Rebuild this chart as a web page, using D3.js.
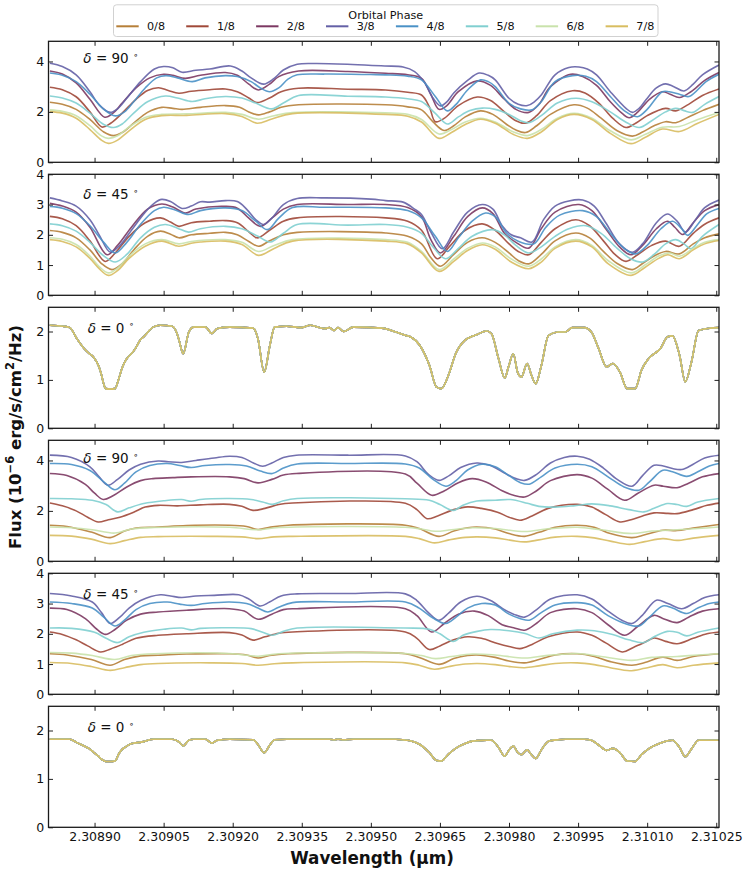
<!DOCTYPE html>
<html><head><meta charset="utf-8">
<script src="https://cdn.jsdelivr.net/npm/d3@7/dist/d3.min.js"></script>
<style>
body{margin:0;background:#fff;}
svg{display:block;font-family:"DejaVu Sans",sans-serif;}
</style></head>
<body><svg id="chart" width="748" height="873"></svg>
<script>
// ---------------- DATA ----------------
// wavelength origin (µm); all wavelength offsets below are in units of 1e-5 µm
const WL0 = 2.3088;
const phases = ["0/8","1/8","2/8","3/8","4/8","5/8","6/8","7/8"];
const deltas = ["90","45","0","90","45","0"];
const xTickValues = [2.30890,2.30905,2.30920,2.30935,2.30950,2.30965,2.30980,2.30995,2.31010,2.31025];
const xTickLabels = ["2.30890","2.30905","2.30920","2.30935","2.30950","2.30965","2.30980","2.30995","2.31010","2.31025"];
const yMaxes = [4.8,4,2.5,4.8,4,2.5];
const yTickSets = [[0,2,4],[0,1,2,3,4],[0,1,2],[0,2,4],[0,1,2,3,4],[0,1,2]];

// Panel 1 (delta = 90, top group): [offset, flux] per phase
const a0 = [[0.3,2.38],[3,2.30],[6,2.10],[9,1.70],[12,1.20],[14.1,1.06],[16,1.18],[18.5,1.55],[21.5,1.98],[24.6,2.18],[27,2.14],[29,2.10],[33,2.18],[38.4,2.25],[41.5,2.18],[43.5,2.00],[45.6,1.88],[48,2.00],[50.5,2.18],[54.3,2.28],[73.2,2.28],[78,2.20],[81,2.08],[83.5,1.60],[85.9,1.26],[88,1.45],[90.5,1.80],[93.8,2.04],[96.5,1.90],[99.5,1.50],[101.5,1.28],[103.6,1.18],[106,1.45],[109,1.90],[114.1,2.28],[117,2.15],[120,1.75],[123.5,1.25],[126.8,1.04],[129,1.20],[131.5,1.45],[134,1.61],[136.2,1.57],[139,1.80],[142,2.05],[145.6,2.30]];
const a1 = [[0.3,2.98],[3,2.88],[6,2.60],[9,2.00],[11.6,1.40],[13.5,1.55],[16,1.95],[19,2.50],[21.5,2.85],[23.9,2.96],[26,2.85],[28.3,2.74],[31,2.82],[35,2.88],[38.4,2.91],[41,2.80],[43.5,2.55],[45.3,2.37],[48,2.55],[50.5,2.80],[54.3,2.94],[65,2.90],[73.2,2.87],[78,2.78],[81,2.67],[82.7,2.20],[84,1.61],[86,1.75],[89,2.25],[93.1,2.59],[96,2.45],[99,2.00],[101.5,1.65],[103.6,1.55],[106,1.85],[109,2.45],[113.8,2.84],[116.5,2.75],[119.5,2.35],[122.5,1.75],[125.4,1.38],[127.5,1.55],[130,1.85],[134,2.14],[136.2,2.04],[139,2.30],[142,2.65],[145.6,2.91]];
const a2 = [[0.3,3.62],[3,3.50],[6,3.15],[9,2.50],[12.2,1.79],[14,1.95],[16,2.35],[19,2.95],[22,3.35],[25,3.49],[27,3.45],[29.7,3.33],[33,3.45],[38.4,3.56],[41,3.45],[43.5,3.10],[45.6,2.87],[48,3.10],[50,3.40],[54.3,3.62],[65,3.60],[73.2,3.53],[78,3.47],[81,3.33],[83,2.70],[84.8,2.10],[86.5,2.25],[89,2.80],[93.1,3.23],[96,3.05],[99,2.50],[101.5,2.10],[104.3,1.98],[106.5,2.30],[109,3.00],[113.4,3.49],[116,3.40],[119,3.05],[122,2.40],[124.5,1.95],[126.1,1.77],[128,2.00],[130.5,2.50],[133.3,2.80],[135,2.70],[137,2.57],[139.5,2.80],[142.5,3.25],[145.6,3.56]];
const a3 = [[0.3,3.93],[3,3.80],[6,3.47],[9,2.80],[11,2.28],[13.4,1.98],[15,2.12],[17,2.54],[20,3.20],[23,3.70],[25,3.80],[27,3.75],[29,3.57],[32,3.65],[35,3.70],[39.5,3.82],[42,3.62],[44,3.35],[46.7,3.10],[49,3.33],[51,3.66],[54,3.89],[58,3.92],[66,3.88],[73,3.82],[77,3.78],[79.5,3.60],[81.5,3.20],[83.5,2.55],[85.1,2.24],[86.5,2.40],[88,2.75],[91,3.25],[93.5,3.54],[95.5,3.45],[97,3.27],[100,2.54],[102,2.30],[104,2.25],[105.5,2.40],[107,2.67],[110,3.47],[113,3.76],[115.2,3.78],[117,3.70],[119,3.47],[122,2.80],[125.4,2.14],[126.8,1.98],[128.3,2.15],[129.7,2.47],[132,2.95],[134,3.11],[135.8,3.00],[138,2.83],[140,3.10],[142,3.47],[145.6,3.86]];
const a4 = [[0.3,3.54],[3,3.45],[6,3.20],[9,2.70],[12,2.10],[14.5,1.84],[16.5,2.00],[18.5,2.40],[21,2.95],[23.5,3.35],[25.5,3.44],[28,3.35],[31.2,3.20],[34,3.35],[38.4,3.44],[41,3.40],[44,3.20],[46,2.95],[48,2.80],[50,2.95],[52,3.30],[54,3.47],[60,3.50],[70,3.48],[73.2,3.47],[78,3.42],[81,3.27],[84,2.61],[86.6,2.04],[88.5,2.30],[91,2.87],[93.8,3.27],[95.5,3.20],[97,3.00],[100,2.34],[102.5,2.12],[105,2.08],[107,2.40],[110,3.20],[113.8,3.44],[116.7,3.41],[119,3.20],[122,2.61],[125,2.05],[127.9,1.81],[130,2.10],[133.3,2.80],[134.8,2.80],[137,2.70],[139.1,2.61],[142.8,3.20],[145.6,3.49]];
const a5 = [[0.3,2.63],[3,2.55],[6,2.35],[9,1.95],[12,1.50],[14.1,1.38],[16,1.52],[18.5,1.95],[21.5,2.40],[25.4,2.63],[28,2.55],[31.2,2.41],[34,2.52],[38.4,2.61],[42,2.55],[45,2.35],[48.5,2.12],[51,2.35],[54.3,2.65],[65,2.62],[73.2,2.59],[78,2.52],[81,2.41],[84,1.94],[86.6,1.52],[89,1.80],[91.5,2.05],[94.2,2.15],[97,2.10],[100,1.90],[102.5,1.65],[104.3,1.57],[107,1.85],[110.5,2.35],[114.5,2.54],[118,2.40],[122,2.00],[125.5,1.58],[128.3,1.38],[131,1.65],[134,2.00],[136.2,2.14],[138,2.05],[139.9,1.98],[142.5,2.30],[145.6,2.61]];
const a6 = [[0.3,2.08],[3,2.02],[6,1.85],[9,1.45],[11.5,1.05],[13,0.95],[15,1.05],[17.5,1.40],[21,1.78],[24.6,1.90],[30,1.92],[38.4,1.98],[42,1.90],[45.6,1.71],[49,1.85],[53,1.97],[73.2,1.96],[78,1.90],[81,1.70],[84.8,1.12],[87.5,1.30],[90.5,1.60],[93.8,1.75],[97,1.60],[101,1.20],[104,1.06],[107,1.30],[110.5,1.75],[114.1,1.94],[118,1.75],[122,1.25],[126.5,0.89],[129.5,1.10],[133.3,1.39],[137,1.42],[141,1.70],[145.6,1.98]];
const a7 = [[0.3,2.01],[3,1.95],[6,1.75],[9,1.30],[11.5,0.88],[13,0.75],[15,0.88],[17.5,1.25],[21,1.70],[24.6,1.85],[30,1.86],[38.4,1.93],[42,1.82],[45.3,1.55],[48.5,1.72],[53,1.93],[73.2,1.90],[78,1.83],[81,1.60],[84.8,0.95],[87.5,1.18],[90.5,1.50],[93.8,1.71],[97,1.55],[101,1.10],[104,0.95],[107,1.20],[110.5,1.70],[114.1,1.90],[118,1.70],[122,1.15],[126.5,0.74],[129.5,0.98],[133.3,1.32],[137,1.22],[141,1.55],[145.6,1.90]];

// Panel 2 (delta = 45, top group)
const b0 = [[0.3,2.14],[3,2.08],[6,1.90],[9,1.50],[11.5,1.05],[13.8,0.85],[16,1.05],[18.5,1.50],[21.5,1.95],[24.3,2.12],[26.5,2.02],[28.3,1.90],[31,2.00],[35,2.05],[38.4,2.08],[41,2.00],[43.5,1.78],[45.6,1.62],[48,1.80],[51,2.00],[54,2.08],[73.2,2.06],[78,1.95],[81,1.70],[83,1.25],[85.1,0.96],[88,1.35],[91,1.75],[94.2,1.90],[97,1.75],[100,1.40],[102,1.15],[104.3,1.04],[107,1.35],[110,1.80],[114.5,2.06],[117.5,1.90],[120.5,1.45],[123.5,1.05],[126.8,0.85],[129,1.05],[131.5,1.30],[134,1.45],[137,1.37],[140,1.70],[142.5,1.90],[145.6,2.03]];
const b1 = [[0.3,2.61],[3,2.53],[6,2.30],[9,1.80],[12.3,1.12],[14.5,1.40],[17.5,1.95],[21,2.40],[24.3,2.56],[26.5,2.42],[28.3,2.28],[31,2.40],[35,2.45],[38.4,2.47],[41,2.40],[43.5,2.10],[45.3,1.90],[48,2.15],[51,2.45],[54,2.56],[73.2,2.56],[78,2.45],[81,2.15],[84.4,1.21],[87,1.60],[90.5,2.15],[94.2,2.36],[97,2.15],[100,1.70],[102,1.45],[104.3,1.34],[107,1.75],[110,2.20],[114.5,2.50],[117.5,2.30],[120.5,1.80],[123,1.35],[125.4,1.12],[128,1.35],[131,1.65],[134,1.79],[137,1.62],[140,2.05],[142.5,2.35],[145.6,2.56]];
const b2 = [[0.3,3.04],[3,2.95],[6,2.75],[9,2.25],[12.7,1.34],[15,1.65],[18,2.25],[21.5,2.85],[24.6,3.02],[27,2.92],[29.7,2.72],[32,2.85],[38.4,2.94],[41,2.88],[43.5,2.55],[46,2.28],[48.5,2.55],[51,2.85],[54,3.00],[65,3.00],[73.2,3.00],[78,2.90],[81,2.60],[83,1.85],[85.1,1.40],[88,1.95],[91,2.60],[94.2,2.89],[96.5,2.70],[99,2.05],[101.5,1.75],[104.3,1.56],[107,2.20],[110,2.75],[115.2,3.00],[118,2.80],[121,2.20],[124,1.60],[126.5,1.34],[129,1.65],[132,2.20],[134.4,2.45],[136,2.25],[137.7,2.01],[140,2.40],[142.5,2.80],[145.6,3.00]];
const b3 = [[0.3,3.22],[3,3.12],[6,2.95],[9,2.50],[11,2.00],[13.4,1.43],[15.5,1.65],[18,2.15],[21,2.75],[23,3.05],[24.6,3.17],[26.5,3.10],[29,2.87],[31,2.95],[33,3.09],[35,3.08],[38.4,3.13],[41,3.10],[43,2.85],[45,2.50],[46.7,2.34],[48.5,2.55],[51,3.00],[54,3.20],[60,3.22],[70,3.18],[73.2,3.13],[77,3.08],[79.5,2.85],[81,2.67],[83,2.10],[85.5,1.54],[88,2.10],[91,2.75],[94.2,3.00],[96.5,2.85],[98.5,2.30],[100.5,2.00],[102.5,1.90],[105,1.76],[107.5,2.50],[110,2.95],[113,3.12],[116,3.15],[118.5,2.95],[121,2.40],[124,1.70],[126.8,1.42],[129,1.70],[132,2.40],[134.4,2.69],[136.5,2.45],[138.3,2.09],[140.5,2.50],[142.5,2.90],[145.6,3.15]];
const b4 = [[0.3,2.94],[3,2.88],[6,2.70],[9,2.30],[12,1.75],[14.5,1.40],[17,1.75],[20,2.35],[23,2.80],[25,2.91],[27.5,2.82],[30.4,2.67],[33,2.80],[38.4,2.89],[42,2.80],[45,2.45],[47.5,2.17],[50,2.55],[53,2.90],[60,2.91],[73.2,2.89],[78,2.80],[81,2.56],[84,1.95],[86.6,1.45],[89,1.90],[92,2.45],[94.9,2.72],[97,2.60],[99.5,2.05],[102,1.79],[105.4,1.70],[108,2.25],[111,2.65],[116,2.80],[119,2.60],[122,2.05],[125,1.55],[127.5,1.37],[130,1.65],[133,2.20],[135.5,2.45],[137.5,2.20],[138.8,1.98],[141,2.35],[143,2.70],[145.6,2.87]];
const b5 = [[0.3,2.36],[3,2.30],[6,2.12],[9,1.75],[12,1.30],[14.5,1.10],[17,1.35],[20,1.90],[23,2.25],[25.4,2.34],[28,2.22],[30.4,2.09],[33,2.20],[38.4,2.28],[42,2.20],[45.5,1.95],[48.2,1.76],[51,2.05],[54,2.34],[65,2.32],[73.2,2.34],[78,2.25],[81,2.05],[83.5,1.60],[86.2,1.21],[89,1.55],[92,1.95],[96.4,2.17],[99,2.00],[101.5,1.65],[104.3,1.40],[107,1.60],[110,1.95],[113,2.20],[116.7,2.30],[120,2.05],[123.5,1.55],[126.5,1.20],[129,1.10],[131.5,1.35],[134,1.70],[136.2,1.84],[138,1.70],[139.5,1.54],[142,1.95],[145.6,2.34]];
const b6 = [[0.3,1.90],[3,1.85],[6,1.68],[9,1.30],[11,0.95],[13,0.74],[15,0.90],[17.5,1.30],[21,1.70],[24.6,1.84],[28.3,1.70],[31,1.78],[38.4,1.84],[42,1.75],[45.6,1.45],[49,1.65],[53,1.84],[73.2,1.84],[78,1.75],[81,1.45],[84.8,0.85],[88,1.20],[91,1.55],[94.2,1.73],[97,1.60],[100.5,1.20],[104.3,0.96],[107,1.20],[110,1.60],[114.5,1.84],[118,1.65],[121.5,1.15],[126.5,0.74],[129.5,1.00],[132.5,1.30],[135,1.40],[137,1.29],[140,1.55],[142.5,1.75],[145.6,1.84]];
const b7 = [[0.3,1.84],[3,1.78],[6,1.60],[9,1.22],[11,0.88],[13,0.66],[15,0.82],[17.5,1.22],[21,1.62],[24.6,1.79],[28.3,1.62],[31,1.72],[33,1.76],[38.4,1.79],[42,1.68],[45.6,1.32],[49,1.55],[53,1.79],[73.2,1.79],[78,1.70],[81,1.40],[84.8,0.79],[88,1.12],[91,1.48],[94.2,1.67],[97,1.52],[100.5,1.10],[104.3,0.88],[107,1.10],[110,1.55],[114.5,1.79],[118,1.60],[121.5,1.05],[126.5,0.66],[129.5,0.92],[132.5,1.22],[134.5,1.34],[137,1.21],[140,1.50],[142.5,1.70],[145.6,1.81]];

// Panel 3 and 6 (delta = 0): identical for every phase
const wl0 = [0.28,3.07,4.62,6.17,7.72,8.76,9.79,10.83,11.34,12.17,12.38,13.41,14.45,15.28,16.00,16.72,18.07,18.59,20.14,20.65,22.72,24.28,26.86,27.90,28.41,29.24,30.48,31.52,34.10,35.45,36.69,39.27,44.45,45.48,46.83,48.07,49.10,51.69,54.79,56.86,59.96,61.00,62.03,62.86,64.10,66.17,72.38,75.48,77.55,78.58,80.65,82.72,84.27,85.31,86.86,88.41,90.48,92.03,93.07,95.14,96.17,97.72,99.07,99.89,100.93,101.86,102.69,103.93,104.86,105.79,107.03,108.58,110.65,112.20,113.75,116.34,117.89,119.44,121.20,122.55,124.10,125.65,127.41,128.76,130.31,132.89,134.44,135.48,137.03,138.27,139.62,141.17,143.75,145.60];
const flux0top = [2.13,2.11,2.08,1.85,1.65,1.55,1.47,1.30,1.16,0.86,0.82,0.81,0.82,1.03,1.25,1.40,1.55,1.61,1.85,1.89,2.09,2.13,2.11,1.96,1.80,1.54,1.99,2.09,2.09,1.96,2.06,2.09,2.07,1.85,1.16,1.71,2.09,2.11,2.08,2.13,2.06,2.08,2.02,2.08,2.00,2.09,2.07,1.99,1.92,1.89,1.71,1.30,0.85,0.82,1.10,1.54,1.82,1.90,1.94,2.01,1.96,1.44,1.04,1.27,1.54,1.16,1.06,1.34,1.10,0.92,1.30,1.92,1.99,1.99,2.08,2.08,1.99,1.65,1.27,1.34,1.16,0.82,0.82,1.20,1.44,1.65,1.89,1.91,1.51,0.96,1.37,2.02,2.07,2.08];
const flux0bot = [1.82,1.82,1.82,1.75,1.68,1.63,1.55,1.47,1.42,1.37,1.36,1.36,1.37,1.52,1.61,1.66,1.73,1.74,1.76,1.77,1.82,1.82,1.82,1.79,1.76,1.68,1.80,1.82,1.82,1.74,1.80,1.82,1.81,1.71,1.54,1.70,1.81,1.82,1.82,1.82,1.82,1.82,1.81,1.82,1.81,1.82,1.82,1.82,1.80,1.79,1.71,1.54,1.38,1.37,1.51,1.63,1.73,1.78,1.79,1.80,1.80,1.65,1.47,1.58,1.68,1.55,1.50,1.60,1.50,1.42,1.60,1.78,1.81,1.82,1.82,1.82,1.80,1.70,1.59,1.63,1.54,1.37,1.36,1.50,1.62,1.74,1.79,1.80,1.65,1.46,1.62,1.80,1.80,1.80];

// Panel 4 (delta = 90, bottom group)
const d0 = [[0.3,1.43],[4,1.38],[9.3,1.16],[13.4,0.94],[16.5,1.20],[19,1.32],[23.8,1.36],[30,1.42],[39.3,1.43],[43,1.38],[45.5,1.26],[48,1.35],[52,1.43],[77.5,1.43],[80.5,1.30],[84.8,0.99],[88,1.20],[91,1.33],[93,1.36],[97,1.28],[100,1.10],[103.4,0.99],[106.5,1.15],[110,1.35],[114.8,1.43],[118.5,1.35],[122,1.10],[126.7,0.94],[129.5,1.05],[133.4,1.23],[136.5,1.22],[140,1.32],[145.6,1.46]];
const d1 = [[0.3,2.31],[3,2.20],[6,2.00],[8.5,1.75],[10.8,1.56],[13,1.65],[15.5,1.75],[18.5,1.95],[21,2.15],[23.8,2.22],[28,2.20],[33,2.24],[39.3,2.26],[42,2.18],[44.4,2.02],[47,2.10],[50,2.25],[53,2.31],[77.5,2.30],[80,2.05],[82.2,1.69],[84.5,1.80],[88,2.05],[91,2.16],[94,2.10],[97.5,1.95],[100,1.75],[102.4,1.63],[105,1.80],[108.5,2.10],[114.8,2.26],[118,2.15],[121,1.85],[124.1,1.56],[126.5,1.65],[129,1.80],[131.5,1.92],[134.5,1.90],[136.5,1.89],[140,2.05],[143,2.22],[145.6,2.31]];
const d2 = [[0.3,3.48],[4,3.40],[8,3.05],[10,2.70],[11.9,2.45],[14,2.60],[17,2.95],[20,3.20],[22.7,3.28],[27,3.32],[31,3.35],[39.3,3.35],[42.5,3.28],[45.5,3.11],[48.5,3.25],[51,3.42],[53.8,3.48],[77.5,3.46],[80,3.10],[83.2,2.62],[86,2.80],[89,3.12],[92,3.28],[95,3.15],[98.5,2.80],[101,2.62],[103.4,2.55],[106,2.80],[109,3.20],[114.8,3.44],[118,3.30],[121.5,2.85],[125.1,2.42],[128,2.70],[131.5,3.02],[133.5,2.98],[136.5,2.92],[139,3.10],[142,3.35],[145.6,3.48]];
const d3v = [[0.3,4.21],[5,4.12],[9,3.75],[11,3.35],[12.9,3.02],[15,3.25],[17.5,3.62],[20,3.85],[23.8,3.98],[26,3.95],[28.9,3.92],[32,4.00],[36,4.10],[39.3,4.17],[42,4.12],[44.5,3.90],[46.5,3.77],[48.5,3.90],[51,4.12],[53.8,4.21],[65,4.21],[77.5,4.18],[80,3.95],[82.5,3.45],[84.8,3.21],[87,3.40],[89.5,3.72],[93,3.90],[96,3.80],[99,3.50],[101.5,3.28],[103.4,3.21],[106,3.45],[109,3.90],[112,4.12],[114.8,4.17],[117.5,4.05],[120.5,3.70],[123.5,3.25],[126.7,2.98],[129,3.40],[131.5,3.81],[133.5,3.78],[135.5,3.68],[137.5,3.64],[140,3.85],[142.5,4.10],[145.6,4.21]];
const d4 = [[0.3,3.88],[5,3.84],[9,3.60],[12,3.15],[14.4,2.84],[16.5,3.10],[19,3.55],[22,3.80],[25.8,3.88],[28.5,3.80],[31,3.72],[34,3.80],[39.3,3.84],[43,3.78],[46,3.58],[48.6,3.48],[51,3.70],[54,3.86],[65,3.88],[77.5,3.86],[80.5,3.70],[83.5,3.25],[86.3,2.98],[88.5,3.20],[91,3.62],[94.1,3.85],[97,3.75],[100,3.40],[102.5,3.12],[104.4,3.06],[107,3.35],[110,3.70],[114.8,3.85],[118,3.75],[121.5,3.35],[125,2.95],[128.2,2.82],[130.5,3.15],[133.4,3.61],[135.5,3.55],[138.6,3.37],[141,3.55],[143.5,3.78],[145.6,3.88]];
const d5 = [[0.3,2.49],[5,2.48],[9.5,2.42],[12.5,2.25],[15,1.96],[17.5,2.12],[20.7,2.29],[25,2.40],[28.9,2.45],[31,2.38],[33,2.45],[39.3,2.49],[44,2.45],[46.5,2.35],[48.6,2.26],[51,2.40],[54,2.49],[77.5,2.48],[82.7,2.42],[85,2.25],[87.9,2.02],[90,2.22],[93,2.39],[97,2.42],[100.3,2.45],[104,2.30],[106.5,2.18],[110,2.15],[114,2.20],[118,2.28],[122,2.20],[126,2.05],[129.3,1.96],[131.5,2.10],[134.4,2.29],[136.5,2.25],[138.6,2.18],[141,2.35],[145.6,2.49]];
const d6 = [[0.3,1.36],[5,1.33],[9.5,1.25],[14.4,1.12],[18,1.28],[23,1.34],[39.3,1.35],[45.5,1.25],[50,1.34],[77.5,1.35],[81,1.28],[84,1.19],[87.5,1.25],[92,1.33],[97,1.30],[103.5,1.18],[108,1.28],[114.8,1.35],[120,1.25],[126.7,1.10],[131,1.20],[136.5,1.25],[141,1.30],[145.6,1.36]];
const d7 = [[0.3,1.03],[5,1.00],[9.3,0.88],[13.4,0.70],[16.5,0.82],[20,0.95],[23.8,0.98],[35,0.99],[42,0.97],[45.5,0.90],[49,0.97],[53,0.99],[77.5,0.99],[80.5,0.90],[83.8,0.73],[87,0.85],[90.5,0.95],[93.1,0.97],[97,0.93],[100.5,0.83],[103.4,0.77],[106.5,0.85],[110,0.96],[114.8,0.99],[118.5,0.93],[122,0.80],[126.2,0.67],[129.5,0.78],[133.4,0.90],[136.5,0.83],[140,0.92],[145.6,1.03]];

// Panel 5 (delta = 45, bottom group)
const e0 = [[0.3,1.34],[4,1.30],[9.3,1.15],[13.4,0.96],[16.5,1.15],[20,1.27],[23.8,1.29],[30,1.33],[39.3,1.34],[43,1.30],[45.5,1.20],[48,1.28],[52,1.34],[77.5,1.34],[80.5,1.22],[84.8,0.99],[88,1.18],[91,1.28],[93,1.30],[97,1.22],[100,1.10],[103.4,1.04],[106.5,1.15],[110,1.30],[114.8,1.34],[118.5,1.25],[122,1.08],[126.7,0.96],[129.5,1.05],[133.4,1.23],[136.5,1.12],[140,1.25],[145.6,1.34]];
const e1 = [[0.3,2.06],[3,1.98],[6,1.80],[8.5,1.60],[11.3,1.40],[13.5,1.50],[16,1.65],[19,1.85],[23.8,1.95],[30,2.00],[39.3,2.04],[42,1.96],[44.4,1.79],[47,1.90],[50,2.02],[53,2.06],[77.5,2.06],[80,1.85],[82.7,1.48],[85,1.60],[88,1.80],[91,1.90],[94,1.85],[97.5,1.68],[100,1.58],[102.4,1.51],[105,1.65],[108.5,1.90],[114.8,2.06],[118,1.95],[121,1.70],[124.6,1.40],[127,1.55],[129.5,1.72],[131.5,1.86],[134,1.75],[136.5,1.67],[140,1.85],[143,2.00],[145.6,2.06]];
const e2 = [[0.3,2.85],[4,2.80],[8,2.50],[10.5,2.15],[12.4,1.98],[14.5,2.15],[17,2.45],[20,2.65],[23.8,2.72],[30,2.78],[39.3,2.83],[42.5,2.75],[45.5,2.48],[48.5,2.65],[51,2.80],[54,2.83],[77.5,2.83],[80,2.60],[83.2,2.06],[86,2.35],[89,2.65],[92.5,2.75],[95.5,2.60],[98.5,2.30],[101,2.20],[103.4,2.12],[106,2.35],[109,2.70],[114.8,2.83],[118,2.70],[121.5,2.30],[125.1,1.95],[128,2.25],[131.5,2.61],[133.5,2.50],[136.5,2.37],[139,2.55],[142,2.75],[145.6,2.83]];
const e3 = [[0.3,3.33],[5,3.25],[9.5,3.05],[11.5,2.70],[13.4,2.34],[15.5,2.55],[17.5,2.85],[20,3.10],[24.3,3.29],[26.5,3.25],[28.9,3.20],[32,3.25],[36,3.27],[41.3,3.29],[43.5,3.15],[46,2.92],[48,3.05],[50.5,3.25],[54,3.32],[65,3.33],[77.5,3.32],[80,3.10],[82.5,2.70],[84.8,2.45],[87,2.70],[89.5,3.05],[93,3.24],[96,3.10],[99,2.80],[101,2.65],[103.4,2.55],[106,2.80],[109,3.15],[114.8,3.29],[118,3.15],[121.5,2.75],[124.5,2.45],[126.7,2.34],[129,2.62],[132,3.11],[134.5,3.00],[137.5,2.83],[140,3.00],[142.5,3.20],[145.6,3.29]];
const e4 = [[0.3,3.05],[5,3.00],[9.5,2.85],[12,2.55],[14.4,2.26],[16.5,2.45],[19,2.80],[22,3.00],[25.8,3.05],[28.5,2.98],[31,2.94],[34,3.00],[39.3,3.05],[43,3.00],[45.5,2.85],[47.6,2.72],[50,2.88],[53,3.03],[65,3.05],[77.5,3.05],[80.5,2.85],[83.5,2.52],[86.3,2.34],[88.5,2.55],[91,2.85],[94.1,3.00],[97,2.95],[100,2.65],[102.5,2.50],[104.4,2.45],[107,2.70],[110,2.95],[114.8,3.03],[118,2.95],[121.5,2.60],[125,2.35],[128.2,2.26],[130.5,2.55],[133.4,2.92],[135.5,2.85],[138.6,2.67],[141,2.85],[143.5,3.00],[145.6,3.05]];
const e5 = [[0.3,2.19],[5,2.18],[10,2.05],[12.5,1.85],[15,1.71],[17.5,1.90],[20.7,2.05],[25,2.15],[28.9,2.19],[31,2.13],[33,2.18],[39.3,2.20],[44,2.17],[46.5,2.05],[48.6,1.95],[51,2.08],[54,2.19],[77.5,2.19],[82.7,2.15],[85,2.00],[87.9,1.75],[90,1.95],[93.1,2.08],[96,2.14],[100,2.10],[103.5,2.01],[106.5,1.86],[109.5,2.00],[114.8,2.12],[118.5,2.10],[122.5,1.98],[126,1.80],[129.3,1.71],[131.5,1.90],[134.4,2.08],[136.5,2.05],[138.6,1.93],[141,2.05],[145.6,2.19]];
const e6 = [[0.3,1.38],[5,1.36],[9.5,1.28],[14.4,1.15],[18,1.28],[23,1.34],[39.3,1.35],[45.5,1.26],[50,1.34],[77.5,1.35],[81,1.28],[84,1.18],[87.5,1.25],[92,1.33],[97,1.30],[103.5,1.20],[108,1.28],[114.8,1.35],[120,1.25],[126.7,1.12],[131,1.22],[136.5,1.25],[141,1.30],[145.6,1.34]];
const e7 = [[0.3,1.05],[5,1.02],[9.3,0.92],[13.4,0.79],[16.5,0.88],[20,0.98],[23.8,1.02],[35,1.04],[42,1.02],[45.5,0.96],[49,1.01],[53,1.04],[77.5,1.04],[80.5,0.96],[83.8,0.83],[87,0.92],[90.5,1.00],[93.1,1.02],[97,0.98],[100.5,0.91],[103.4,0.88],[106.5,0.94],[110,1.02],[114.8,1.04],[118.5,0.98],[122,0.88],[126.2,0.78],[129.5,0.86],[133.4,0.98],[136.5,0.88],[140,0.96],[145.6,1.04]];

// ---------------- STYLE / LAYOUT ----------------
const colors = ["#b67f38","#a04838","#7c3862","#6460a6","#4a91c6","#80cfd0","#c9e2ab","#d8bd60"];
const W = 748, H = 873;
const L = 48.5, R = 719, T0 = 41.3, PH = 121, STEP = 133;

const delta0 = wl0.map((u,i) => [u, flux0top[i]]);
const delta0b = wl0.map((u,i) => [u, flux0bot[i]]);
const panelSeries = [
  [a0,a1,a2,a3,a4,a5,a6,a7],
  [b0,b1,b2,b3,b4,b5,b6,b7],
  phases.map(() => delta0),
  [d0,d1,d2,d3v,d4,d5,d6,d7],
  [e0,e1,e2,e3,e4,e5,e6,e7],
  phases.map(() => delta0b)
];
const labelOffsets = [21.8,25,25.4,22.7,25.7,25.7];

const svg = d3.select("#chart");
const x = d3.scaleLinear().domain([2.3088, 2.310256]).range([L, R]);

panelSeries.forEach((series, k) => {
  const top = T0 + k*STEP, bottom = top + PH;
  const y = d3.scaleLinear().domain([0, yMaxes[k]]).range([bottom, top]);
  const g = svg.append("g");
  const cid = "clip" + k;
  g.append("clipPath").attr("id", cid).append("rect")
    .attr("x", L).attr("y", top).attr("width", R-L).attr("height", PH);
  const smooth = (k === 2 || k === 5) ? d3.curveMonotoneX : d3.curveCatmullRom.alpha(0.5);
  const line = d3.line().x(p => x(WL0 + p[0]*1e-5)).y(p => y(p[1])).curve(smooth);
  const lg = g.append("g").attr("clip-path", `url(#${cid})`);
  series.forEach((s, i) => {
    lg.append("path").attr("d", line(s)).attr("fill","none")
      .attr("stroke", colors[i]).attr("stroke-width", 1.6)
      .attr("stroke-opacity", 0.9).attr("stroke-linejoin","round");
  });

  const isLast = k === 5;
  const styleAxis = sel => {
    sel.select(".domain").remove();
    sel.selectAll(".tick line").attr("stroke","#222").attr("stroke-width",1);
    sel.attr("font-family","DejaVu Sans").attr("font-size",12.5);
    sel.selectAll(".tick text").attr("fill","#111");
  };
  g.append("g").attr("transform",`translate(0,${bottom})`)
    .call(d3.axisBottom(x).tickValues(xTickValues).tickSizeInner(-4.5).tickSizeOuter(0).tickPadding(4.8)
      .tickFormat((d,i) => isLast ? xTickLabels[i] : ""))
    .call(styleAxis);
  g.append("g").attr("transform",`translate(0,${top})`)
    .call(d3.axisTop(x).tickValues(xTickValues).tickSizeInner(-4.5).tickSizeOuter(0).tickFormat(""))
    .call(styleAxis);
  g.append("g").attr("transform",`translate(${L},0)`)
    .call(d3.axisLeft(y).tickValues(yTickSets[k]).tickSizeInner(-4.5).tickSizeOuter(0).tickPadding(4.2).tickFormat(d3.format("d")))
    .call(styleAxis);
  g.append("g").attr("transform",`translate(${R},0)`)
    .call(d3.axisRight(y).tickValues(yTickSets[k]).tickSizeInner(-4.5).tickSizeOuter(0).tickFormat(""))
    .call(styleAxis);

  g.append("rect").attr("x",L).attr("y",top).attr("width",R-L).attr("height",PH)
    .attr("fill","none").attr("stroke","#1a1a1a").attr("stroke-width",1.3);

  const t = g.append("text").attr("x", 111).attr("y", top + labelOffsets[k])
    .attr("text-anchor","middle").attr("font-size",13.5).attr("fill","#111");
  t.append("tspan").attr("font-style","italic").text("δ");
  t.append("tspan").text(" = " + deltas[k] + " ");
  t.append("tspan").attr("font-size",9).attr("dy",-5.5).text("∘");
});

// axis titles
const xl = svg.append("text").attr("x", 372).attr("y", 864).attr("text-anchor","middle")
  .attr("font-size",16.8).attr("font-weight","bold").attr("fill","#111").text("Wavelength (µm)");
const yl = svg.append("text").attr("transform","translate(20.5,437) rotate(-90)")
  .attr("text-anchor","middle").attr("font-size",16.5).attr("font-weight","bold").attr("fill","#111");
yl.append("tspan").text("Flux (10");
yl.append("tspan").attr("font-size",11.5).attr("dy",-6.5).text("−6");
yl.append("tspan").attr("dy",6.5).text(" erg/s/cm");
yl.append("tspan").attr("font-size",11.5).attr("dy",-6.5).text("2");
yl.append("tspan").attr("dy",6.5).text("/Hz)");

// legend
const lgd = svg.append("g");
lgd.append("rect").attr("x",113.5).attr("y",4.8).attr("width",544.5).attr("height",31.7)
  .attr("rx",3).attr("fill","#fff").attr("stroke","#cccccc").attr("stroke-width",0.9);
lgd.append("text").attr("x",385.8).attr("y",18.6).attr("text-anchor","middle")
  .attr("font-size",11.2).attr("fill","#111").text("Orbital Phase");
phases.forEach((p,i) => {
  const x0 = 116.3 + i*69.9;
  lgd.append("line").attr("x1",x0).attr("x2",x0+22.4).attr("y1",26.3).attr("y2",26.3)
    .attr("stroke",colors[i]).attr("stroke-width",2);
  lgd.append("text").attr("x",x0+30.7).attr("y",26.3).attr("dy","0.36em")
    .attr("font-size",11.2).attr("fill","#111").text(p);
});
</script>
</body></html>
